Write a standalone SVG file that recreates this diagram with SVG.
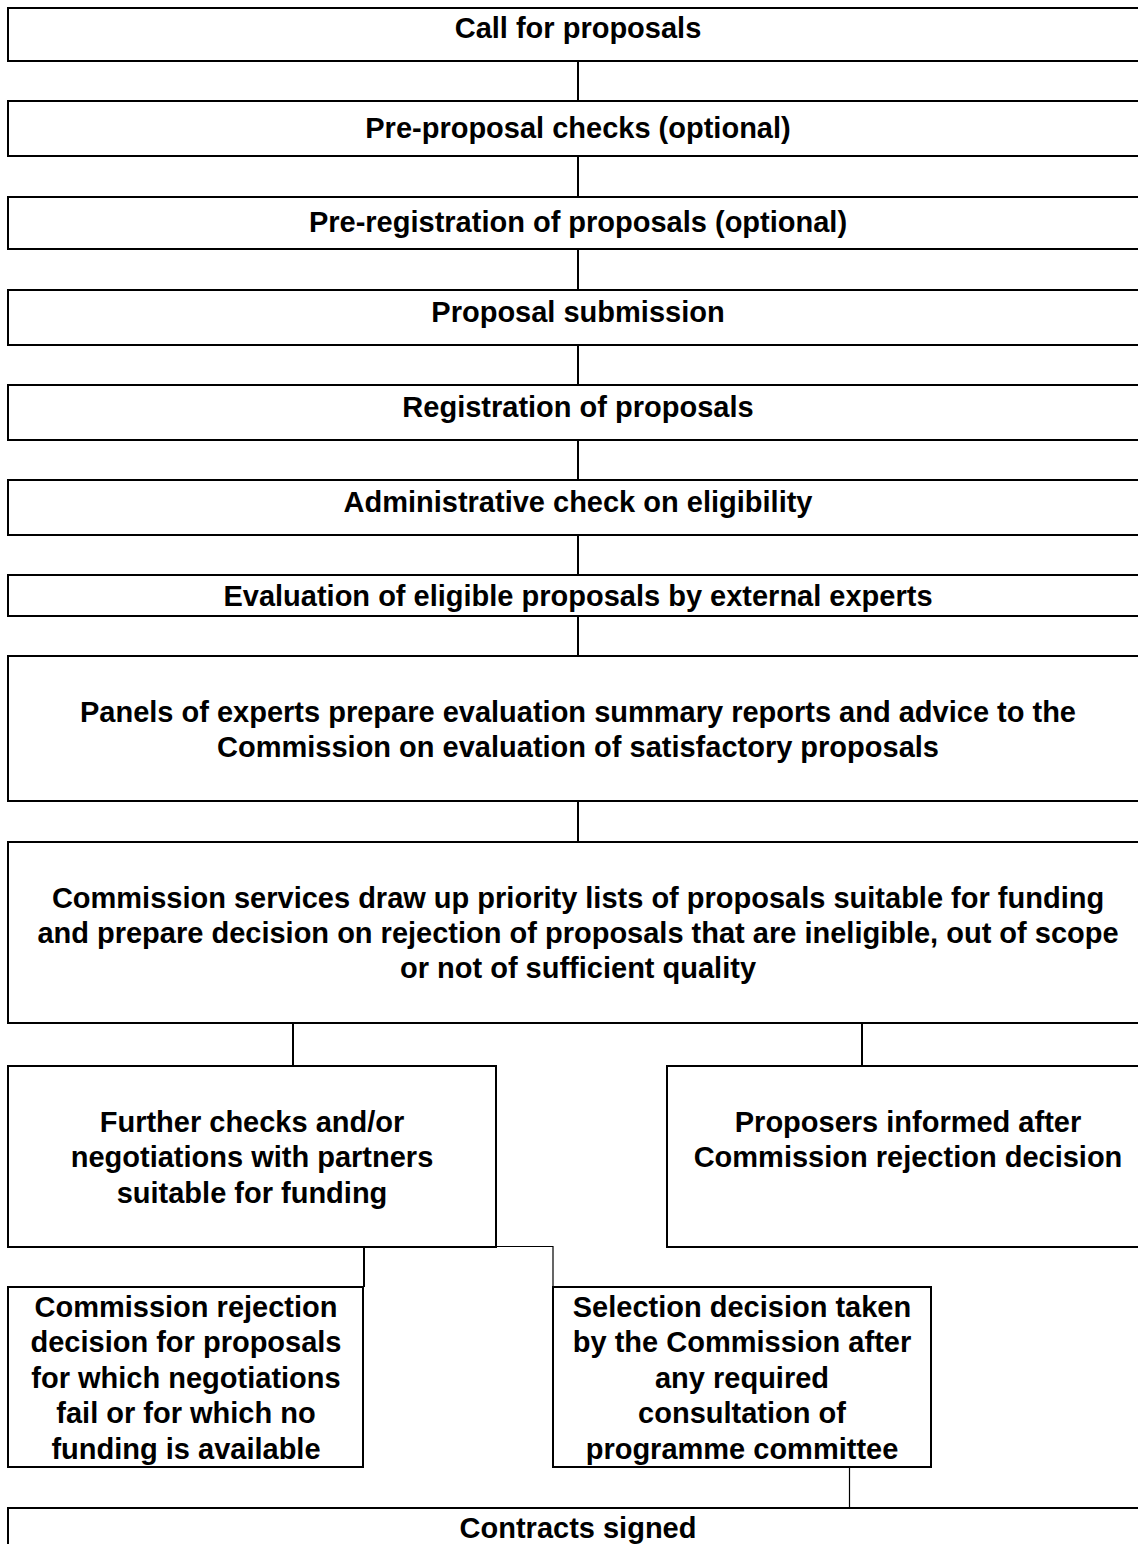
<svg xmlns="http://www.w3.org/2000/svg" width="1138" height="1544" viewBox="0 0 1138 1544">
  <style>
    .box { fill: #ffffff; stroke: #000000; stroke-width: 2; }
    .lbl { font-family: "Liberation Sans", Arial, Helvetica, sans-serif; font-weight: bold; font-size: 29px; fill: #000000; text-anchor: middle; }
    .link { fill: none; stroke: #000000; stroke-width: 2; }
    .link-thin { fill: none; stroke: #000000; stroke-width: 1.2; }
  </style>
  <rect width="1138" height="1544" fill="#ffffff"/>

  <!-- connectors -->
  <g id="connectors">
    <line class="link" x1="578" y1="61" x2="578" y2="101"/>
    <line class="link" x1="578" y1="156" x2="578" y2="197"/>
    <line class="link" x1="578" y1="249" x2="578" y2="290"/>
    <line class="link" x1="578" y1="345" x2="578" y2="385"/>
    <line class="link" x1="578" y1="440" x2="578" y2="480"/>
    <line class="link" x1="578" y1="535" x2="578" y2="575"/>
    <line class="link" x1="578" y1="616" x2="578" y2="656"/>
    <line class="link" x1="578" y1="801" x2="578" y2="842"/>
    <line class="link" x1="293" y1="1023" x2="293" y2="1066"/>
    <line class="link" x1="862" y1="1023" x2="862" y2="1066"/>
    <line class="link" x1="364" y1="1247" x2="364" y2="1287"/>
    <path class="link-thin" d="M496,1246.5 H553 V1287"/>
    <line class="link-thin" x1="849.5" y1="1468" x2="849.5" y2="1508"/>
  </g>

  <g id="call">
    <rect class="box" x="8" y="8" width="1140" height="53"/>
    <text class="lbl" x="578" y="38">Call for proposals</text>
  </g>
  <g id="pre-check">
    <rect class="box" x="8" y="101" width="1140" height="55"/>
    <text class="lbl" x="578" y="138">Pre-proposal checks (optional)</text>
  </g>
  <g id="pre-registration">
    <rect class="box" x="8" y="197" width="1140" height="52"/>
    <text class="lbl" x="578" y="232">Pre-registration of proposals (optional)</text>
  </g>
  <g id="submission">
    <rect class="box" x="8" y="290" width="1140" height="55"/>
    <text class="lbl" x="578" y="322">Proposal submission</text>
  </g>
  <g id="registration">
    <rect class="box" x="8" y="385" width="1140" height="55"/>
    <text class="lbl" x="578" y="417">Registration of proposals</text>
  </g>
  <g id="admin-check">
    <rect class="box" x="8" y="480" width="1140" height="55"/>
    <text class="lbl" x="578" y="512">Administrative check on eligibility</text>
  </g>
  <g id="evaluation">
    <rect class="box" x="8" y="575" width="1140" height="41"/>
    <text class="lbl" x="578" y="606">Evaluation of eligible proposals by external experts</text>
  </g>
  <g id="panels">
    <rect class="box" x="8" y="656" width="1140" height="145"/>
    <text class="lbl" x="578" y="722">Panels of experts prepare evaluation summary reports and advice to the</text>
    <text class="lbl" x="578" y="757">Commission on evaluation of satisfactory proposals</text>
  </g>
  <g id="priority-lists">
    <rect class="box" x="8" y="842" width="1140" height="181"/>
    <text class="lbl" x="578" y="908">Commission services draw up priority lists of proposals suitable for funding</text>
    <text class="lbl" x="578" y="943">and prepare decision on rejection of proposals that are ineligible, out of scope</text>
    <text class="lbl" x="578" y="978">or not of sufficient quality</text>
  </g>
  <g id="further-checks">
    <rect class="box" x="8" y="1066" width="488" height="181"/>
    <text class="lbl" x="252" y="1132">Further checks and/or</text>
    <text class="lbl" x="252" y="1167">negotiations with partners</text>
    <text class="lbl" x="252" y="1203">suitable for funding</text>
  </g>
  <g id="proposers-informed">
    <rect class="box" x="667" y="1066" width="481" height="181"/>
    <text class="lbl" x="908" y="1132">Proposers informed after</text>
    <text class="lbl" x="908" y="1167">Commission rejection decision</text>
  </g>
  <g id="rejection">
    <rect class="box" x="8" y="1287" width="355" height="180"/>
    <text class="lbl" x="186" y="1317">Commission rejection</text>
    <text class="lbl" x="186" y="1352">decision for proposals</text>
    <text class="lbl" x="186" y="1388">for which negotiations</text>
    <text class="lbl" x="186" y="1423">fail or for which no</text>
    <text class="lbl" x="186" y="1459">funding is available</text>
  </g>
  <g id="selection">
    <rect class="box" x="553" y="1287" width="378" height="180"/>
    <text class="lbl" x="742" y="1317">Selection decision taken</text>
    <text class="lbl" x="742" y="1352">by the Commission after</text>
    <text class="lbl" x="742" y="1388">any required</text>
    <text class="lbl" x="742" y="1423">consultation of</text>
    <text class="lbl" x="742" y="1459">programme committee</text>
  </g>
  <g id="contracts">
    <rect class="box" x="8" y="1508" width="1140" height="80"/>
    <text class="lbl" x="578" y="1538">Contracts signed</text>
  </g>
</svg>
